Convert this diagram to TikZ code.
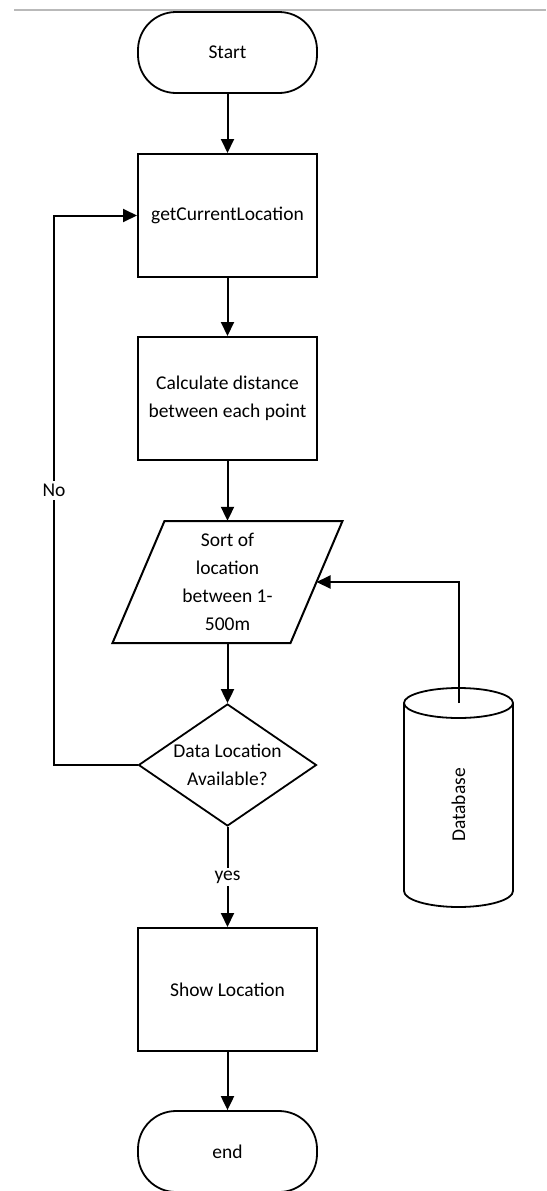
\documentclass[tikz,border=0pt]{standalone}
\usepackage{fontspec}
\setmainfont{Carlito}
\usetikzlibrary{arrows.meta,shapes.geometric}

\begin{document}
\begin{tikzpicture}[x=1pt,y=-1pt,
  every node/.style={font=\fontsize{19.5}{28}\selectfont},
  plain/.style={line width=2pt},
  flow/.style={plain, -{Triangle[length=14pt,width=13pt]}},
  procbox/.style={draw, plain, minimum width=179pt, minimum height=123pt,
    inner sep=0pt, align=center},
  termbox/.style={draw, line width=1.8pt, rounded corners=38pt,
    minimum width=179pt, minimum height=81pt, inner sep=0pt},
  decision/.style={diamond, draw, line width=1.8pt, minimum width=178pt,
    minimum height=122pt, inner sep=0pt, aspect=1.46},
  tag/.style={fill=white, inner xsep=1pt, inner ysep=3pt}
]
\useasboundingbox (0,0) rectangle (546,1191);

% page rule
\draw[gray!55, line width=2pt] (14,9.5) -- (546,9.5);

% main column
\node[termbox] (start) at (227.5,52.5) {Start};
\node[procbox] (getloc) at (227.5,215.5) {getCurrentLocation};
\node[procbox] (calc) at (227.5,398.5) {Calculate distance\\between each point};

% data (parallelogram)
\coordinate (pTL) at (164.5,521);
\coordinate (pTR) at (342.5,521);
\coordinate (pBR) at (290.5,643);
\coordinate (pBL) at (112.5,643);
\draw[plain, line join=miter] (pTL) -- (pTR) -- (pBR) -- (pBL) -- cycle;
\node[align=center, minimum height=122pt, inner sep=0pt] (sort) at (227.5,582)
  {Sort of\\location\\between 1-\\500m};
\coordinate (sortin) at (316.5,582);

% decision
\node[decision] (avail) at (227.5,765) {};
\node[align=center] (availtext) at (avail.center) {Data Location\\Available?};

\node[procbox] (show) at (227.5,989.5) {Show Location};
\node[termbox] (finish) at (227.5,1151.5) {end};

% database cylinder
\draw[line width=1.8pt] (458.5,703) ellipse [x radius=54.5pt, y radius=15pt];
\draw[line width=1.8pt] (404,703) -- (404,891)
  arc[start angle=180, end angle=360, x radius=54.5pt, y radius=16pt]
  -- (513,703);
\node[rotate=90] (db) at (458.5,805) {Database};
\coordinate (dbtop) at (458.5,703);
\coordinate (dbbend) at (458.5,582);

% loop-back coordinates
\coordinate (loopB) at (54,765);
\coordinate (loopT) at (54,215.5);

% connectors
\draw[flow] (start) -- (getloc);
\draw[flow] (getloc) -- (calc);
\draw[flow] (calc) -- (sort);
\draw[flow] (sort) -- (avail);
\draw[flow] (avail) -- node[tag] {yes} (show);
\draw[flow] (show) -- (finish);
\draw[flow] (avail.west) -- (loopB) -- node[tag] {No} (loopT) -- (getloc.west);
\draw[flow] (dbtop) -- (dbbend) -- (sortin);
\end{tikzpicture}
\end{document}
